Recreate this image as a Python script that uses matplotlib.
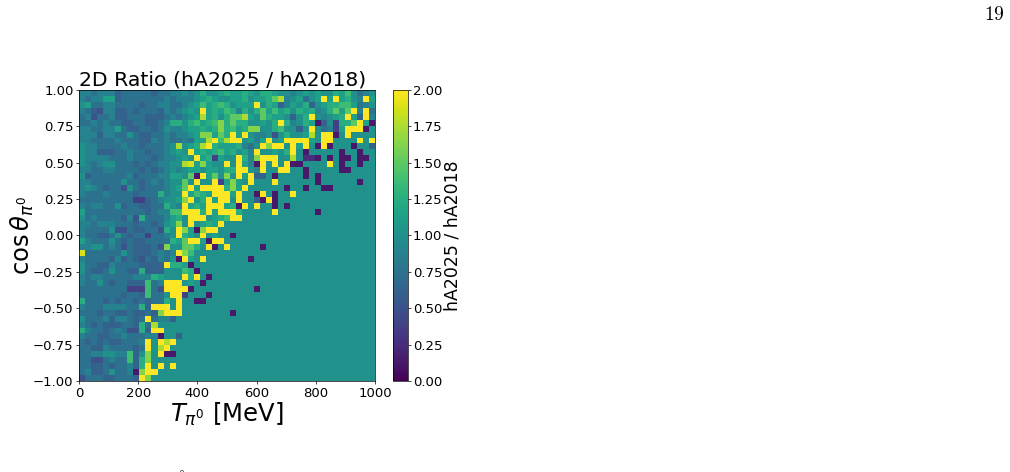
import numpy as np
import matplotlib
matplotlib.use('Agg')
import matplotlib.pyplot as plt

# ratio of the two hA models per bin, top row first
# one base-17 digit per bin, in steps of 0.125 (8 = 1.00, g = 2.00)
ratio_rows = [
    "7767775666 6656677878 a889a99a98 aa98878989 88a9b8678",
    "7677995666 6666767778 9a98899a89 9ace789689 g9g9a87g9",
    "8966776666 5667766789 b9aba8999g 8a95798a58 9aabb9678",
    "7654775565 6665767898 g9a9ba7a8a c9b9a8a9a7 8ac9cg7g6",
    "6746675566 6555676789 e9a8acce98 ca99858ag8 789ag95g7",
    "6676766556 65567aa8ab 9abdacaa88 98aga78a91 583aacg91",
    "7766779655 6656877899 a9adab9add 88ab8858g8 6739ggg18",
    "7775776686 5566767789 dd9cag9g87 7848a889e8 gg18g8888",
    "7766667666 5576766769 9egbegg897 9g89gggg98 gg8888g8g",
    "8776666766 566678e89a ega999a768 gdgg8g9g81 g18881885",
    "8775556676 65667898g9 a9ab9a897g 8898ag8188 888188188",
    "8777766676 665677898g 9a3988ga7d ggg88e8221 818118118",
    "8767886665 6567788ef9 d988g8g971 g8g8g11888 8g8188188",
    "7766776666 5656787899 8998aagg87 g88gg88188 888118888",
    "8566666675 66677998c1 g9c8d8g9g5 5818888181 888888888",
    "7766666866 5676788c8g 88g39d98g8 88g8888881 888888188",
    "7876566486 5666789cg9 ggggad9g88 8888188188 118888888",
    "7666766665 666a788g9b a9ggg9g881 g8188g8888 888888888",
    "6666666663 3567889dg8 ag9gg8g885 1g18888888 888888888",
    "7677668566 5566a87g9a 9ggg9a1g8g 8818188888 888888888",
    "9666666666 65677bbggg ag9ggga888 88g8888881 888888888",
    "8676666574 a66679a8gg g89abgg888 8888888888 888888888",
    "7767776665 665689d8g8 9a9g888888 8888888888 888888888",
    "7666684465 5664a8gd91 dgg8888888 8888888888 888888888",
    "7665568656 636678ga98 g898818888 8888888888 888888888",
    "9766686565 56666a9cgg 91gg888888 8888888888 888888888",
    "7788676465 5564d88cca 8g18g88888 1888888888 888888888",
    "f666666865 556767gdb8 8888888888 8888888888 888888888",
    "7666657565 4657681g98 g888888818 8888888888 888888888",
    "8665576666 5555gaa918 8888888888 8888888888 888888888",
    "8655686655 a555888ba1 8888888888 8888888888 888888888",
    "7677666667 77a9888gag 8188888888 8888888888 888888888",
    "7668656655 5b67ggg898 1888888888 8888888888 888888888",
    "6666666633 3b64gggg18 8888888881 8888888888 888888888",
    "6666666566 5b668gg388 8188888888 8888888888 888888888",
    "a666565665 6566a8g881 1888888888 8888888888 888888888",
    "7666777766 a5ggg8g888 8888888888 8888888888 888888888",
    "6665665565 565dggg888 8888818888 8888888888 888888888",
    "8666757765 6g67758888 8888888888 8888888888 888888888",
    "7656555665 a6e8888888 8888888888 8888888888 888888888",
    "a766567644 a5gg888888 8888888888 8888888888 888888888",
    "7665566766 6771885888 8888888888 8888888888 888888888",
    "6565655666 7g8geg8888 8888888888 8888888888 888888888",
    "6655766665 6g8eg88888 8888888888 8888888888 888888888",
    "66778877b5 8d8g118888 8888888888 8888888888 888888888",
    "66446766b5 ad88888888 8888888888 8888888888 888888888",
    "6655656675 ag8g8g8888 8888888888 8888888888 888888888",
    "6755686671 dgg8888888 8888888888 8888888888 888888888",
    "4666556665 gd88888888 8888888888 8888888888 888888888",
]
energy_edges = np.linspace(0, 1000, 50)
cos_edges = np.linspace(-1, 1, 50)
cos_ticks = [-1.0, -0.75, -0.5, -0.25, 0.0, 0.25, 0.5, 0.75, 1.0]
energy_ticks = [0, 200, 400, 600, 800, 1000]
cbar_ticks = [0, 0.25, 0.5, 0.75, 1.0, 1.25, 1.5, 1.75, 2.0]

ratio = np.array([[int(c, 17) * 0.125 for c in row.replace(' ', '')] for row in ratio_rows])

W, H = 1010, 472
fig = plt.figure(figsize=(W / 100, H / 100), dpi=100)
ax = fig.add_axes([79 / W, 1 - 381 / H, 296 / W, 291 / H])
cax = fig.add_axes([393 / W, 1 - 381 / H, 15 / W, 291 / H])

# rows are listed from the top, so flip them for the rising y edges
mesh = ax.pcolormesh(energy_edges, cos_edges, ratio[::-1], cmap='viridis', vmin=0, vmax=2)
ax.set_xticks(energy_ticks)
ax.set_yticks(cos_ticks)
ax.set_yticklabels([f'{t:.2f}'.replace('-', '\u2212') for t in cos_ticks])
ax.tick_params(labelsize=9.5, length=2, width=0.5, pad=2)
for side in ax.spines.values():
    side.set_linewidth(0.5)
ax.set_title('2D Ratio (hA2025 / hA2018)', fontsize=14.7, pad=2, loc='left')
ax.set_xlabel(r'$T_{\pi^0}$ [MeV]', fontsize=17.5, labelpad=1)
ax.set_ylabel(r'$\cos\theta_{\pi^0}$', fontsize=17.5, labelpad=-2)

cb = fig.colorbar(mesh, cax=cax)
cb.set_ticks(cbar_ticks)
cb.set_ticklabels([f'{t:.2f}' for t in cbar_ticks])
cb.ax.tick_params(labelsize=9.5, length=2, width=0.5, pad=1.5)
cb.outline.set_linewidth(0.5)
cb.set_label('hA2025 / hA2018', fontsize=12.5, labelpad=1)

# page number of the paper, and the top of the caption's superscript cut by the page edge
fig.text(994 / W, 1 - 14 / H, r'$\mathrm{19}$', fontsize=14, math_fontfamily='cm', ha='center', va='center')
fig.text(181 / W, 1 - 469.5 / H, '0', fontsize=7, color='#555555', ha='center', va='top')

fig.savefig('out.png', dpi=100)
